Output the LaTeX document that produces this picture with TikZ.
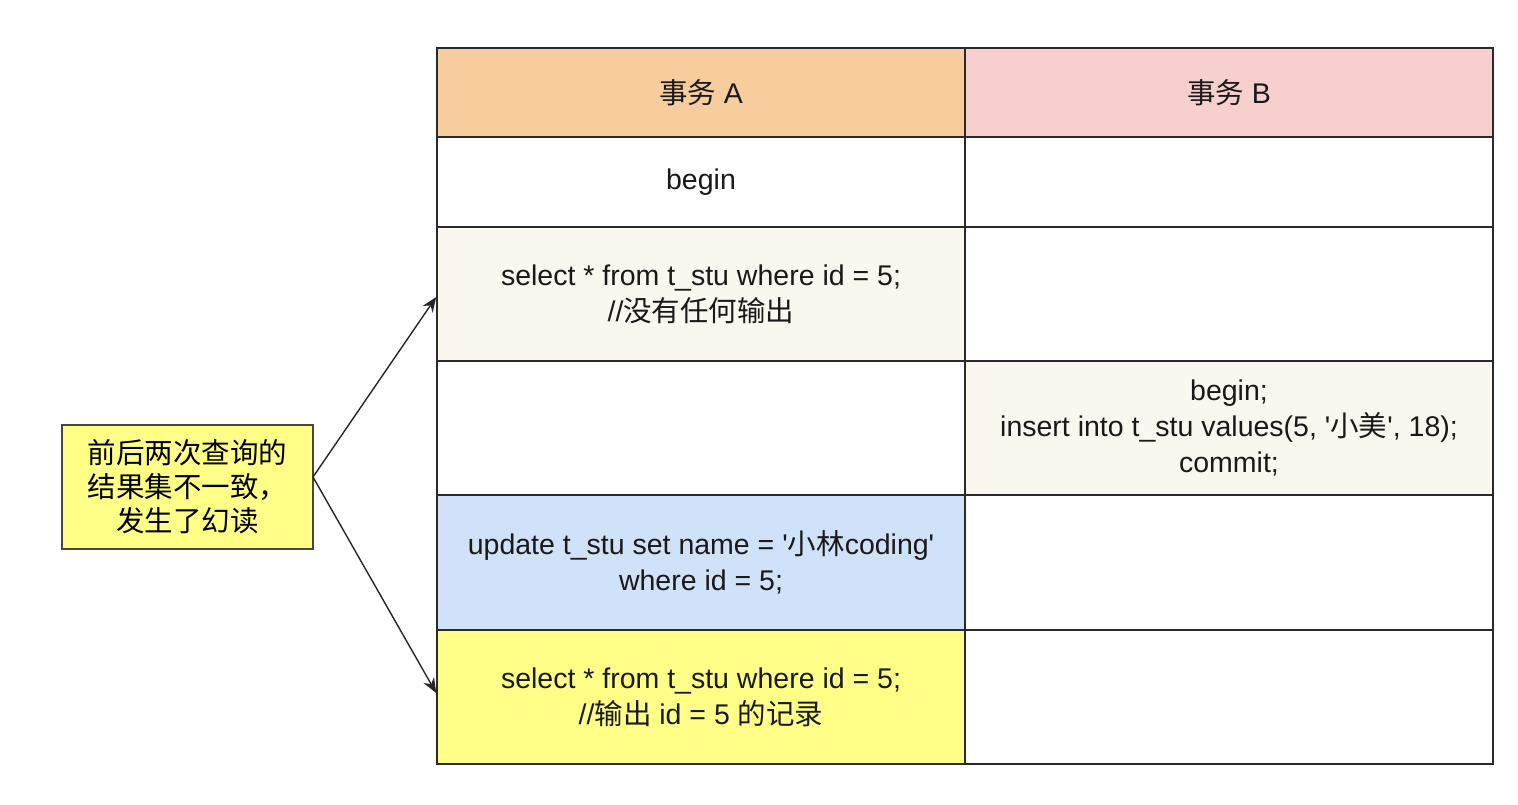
\documentclass[tikz,border=0pt]{standalone}
\usepackage{fontspec}
\usetikzlibrary{arrows.meta}
\newfontfamily\lib{Liberation Sans}
\newfontfamily\cjk{Noto Sans CJK SC}
\definecolor{hdrA}{HTML}{F7CD9E}
\definecolor{hdrB}{HTML}{F7CFCD}
\definecolor{light}{HTML}{F9F7EE}
\definecolor{blue}{HTML}{D0E2FA}
\definecolor{yel}{HTML}{FFFF88}
\definecolor{edge}{HTML}{2A2A2A}
\begin{document}
\begin{tikzpicture}[x=1pt,y=-1pt,
  cell/.style={draw=edge,line width=1.6pt,minimum width=528pt,inner sep=0pt,
    align=center,font=\lib\fontsize{28.5}{36}\selectfont,text=black!90},
  notebox/.style={draw=black!70!yellow!60!black,line width=1.4pt,fill=yel,minimum width=251pt,
    minimum height=124pt,inner sep=0pt,align=center,font=\cjk\fontsize{28.5}{34}\selectfont},
  conn/.style={line width=1.4pt,draw=black!85,-{Stealth[length=15pt,width=12pt]}}]
\useasboundingbox (0,0) rectangle (1518,804);
% header
\node[cell,fill=hdrA,minimum height=89pt] (ha) at (701,92.5) {{\cjk 事务} A};
\node[cell,fill=hdrB,minimum height=89pt] (hb) at (1229,92.5) {{\cjk 事务} B};
% row 1
\node[cell,fill=white,minimum height=90pt] (a1) at (701,182) {begin};
\node[cell,fill=white,minimum height=90pt] (b1) at (1229,182) {};
% row 2
\node[cell,fill=light,minimum height=134pt] (a2) at (701,294) {select * from t\_stu where id = 5;\\//{\cjk 没有任何输出}};
\node[cell,fill=white,minimum height=134pt] (b2) at (1229,294) {};
% row 3
\node[cell,fill=white,minimum height=134pt] (a3) at (701,428) {};
\node[cell,fill=light,minimum height=134pt] (b3) at (1229,428) {begin;\\insert into t\_stu values(5, '{\cjk 小美}', 18);\\commit;};
% row 4
\node[cell,fill=blue,minimum height=135pt] (a4) at (701,562.5) {update t\_stu set name = '{\cjk 小林}coding'\\where id = 5;};
\node[cell,fill=white,minimum height=135pt] (b4) at (1229,562.5) {};
% row 5
\node[cell,fill=yel,minimum height=134pt] (a5) at (701,697) {select * from t\_stu where id = 5;\\//{\cjk 输出} id = 5 {\cjk 的记录}};
\node[cell,fill=white,minimum height=134pt] (b5) at (1229,697) {};
% note
\node[notebox] (note) at (187.5,487) {前后两次查询的\\结果集不一致，\\发生了幻读};
\coordinate (apex) at (313,477);
\draw[conn] (apex) -- (a2.west |- 0,297);
\draw[conn] (apex) -- (a5.west |- 0,693);
\end{tikzpicture}
\end{document}
